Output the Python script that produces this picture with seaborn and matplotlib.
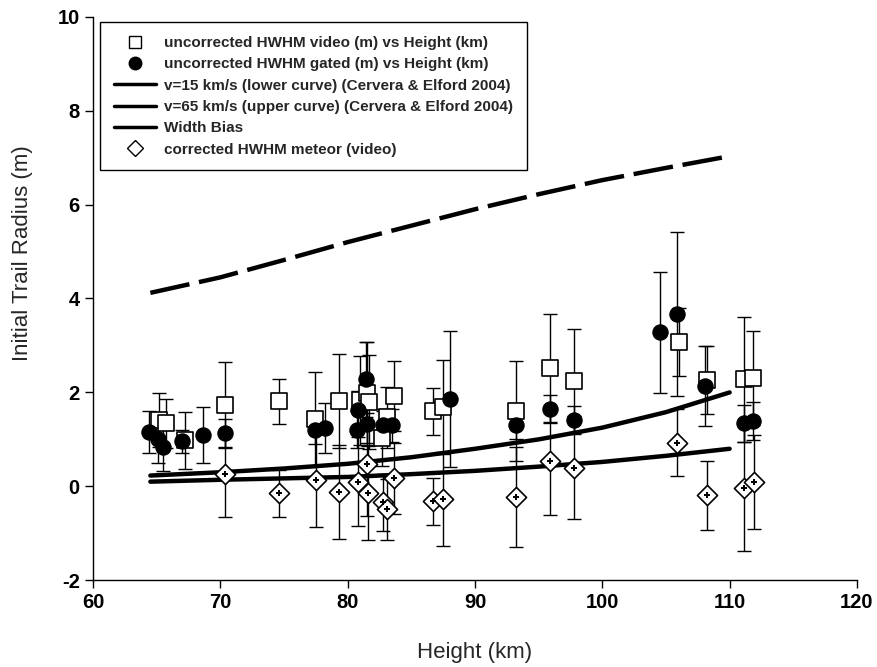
import matplotlib
matplotlib.use("Agg")
import matplotlib.pyplot as plt
from matplotlib.lines import Line2D
import seaborn as sns
import pandas as pd

# uncorrected HWHM video (m)
video_h = [65.2, 65.7, 67.2, 70.4, 74.6, 77.4, 79.3, 81.0, 81.5, 81.7, 82.7,
           83.1, 83.6, 86.7, 87.5, 93.2, 95.9, 97.8, 106.0, 108.2, 111.1, 111.8]
video_r = [1.41, 1.34, 0.98, 1.73, 1.81, 1.43, 1.81, 1.83, 1.98, 1.79, 1.04,
           1.47, 1.92, 1.60, 1.68, 1.60, 2.52, 2.24, 3.07, 2.26, 2.28, 2.30]
video_err = [0.57, 0.52, 0.60, 0.92, 0.48, 1.00, 1.00, 0.95, 1.10, 1.00, 0.60,
             0.65, 0.75, 0.50, 1.00, 1.07, 1.15, 1.10, 0.72, 0.73, 1.33, 1.00]

# uncorrected HWHM gated (m)
gated_h = [64.4, 65.1, 65.5, 67.0, 68.6, 70.4, 77.4, 78.2, 80.7, 80.8, 81.4, 81.5,
           82.8, 83.5, 88.0, 93.2, 95.9, 97.8, 104.5, 105.9, 108.1, 111.1, 111.8]
gated_r = [1.15, 1.00, 0.83, 0.96, 1.09, 1.13, 1.20, 1.24, 1.21, 1.62, 2.28, 1.32,
           1.30, 1.30, 1.86, 1.30, 1.64, 1.41, 3.28, 3.67, 2.13, 1.34, 1.39]
gated_err = [0.45, 0.50, 0.50, 0.25, 0.60, 0.30, 0.30, 0.53, 0.40, 0.40, 0.80, 0.40,
             0.30, 0.35, 1.45, 0.30, 0.30, 0.30, 1.29, 1.75, 0.85, 0.40, 0.40]

# corrected HWHM meteor (video)
corr_h = [70.4, 74.6, 77.5, 79.3, 80.8, 81.5, 81.6, 82.8, 83.1, 83.6, 86.7,
          87.5, 93.2, 95.9, 97.8, 105.9, 108.2, 111.1, 111.9]
corr_r = [0.26, -0.15, 0.13, -0.12, 0.10, 0.47, -0.15, -0.34, -0.49, 0.17, -0.32,
          -0.26, -0.23, 0.55, 0.40, 0.93, -0.19, -0.04, 0.09]
corr_err = [0.92, 0.50, 1.00, 1.00, 0.95, 1.10, 1.00, 0.60, 0.65, 0.75, 0.50,
            1.00, 1.07, 1.15, 1.10, 0.72, 0.73, 1.33, 1.00]

# model curves
curve_h = [64.5, 70, 75, 80, 85, 90, 95, 100, 105, 110]
v15_r = [0.10, 0.14, 0.17, 0.20, 0.26, 0.33, 0.42, 0.52, 0.65, 0.80]
v65_r = [0.23, 0.30, 0.38, 0.48, 0.62, 0.80, 1.00, 1.25, 1.58, 2.00]
bias_r = [4.12, 4.45, 4.82, 5.20, 5.55, 5.90, 6.22, 6.52, 6.78, 7.03]

sns.set_style("ticks")
plt.rcParams["font.family"] = ["Liberation Sans", "DejaVu Sans"]
plt.rcParams["axes.unicode_minus"] = False

fig = plt.figure(figsize=(8.78, 6.67), dpi=100)
ax = fig.add_axes([0.106, 0.130, 0.870, 0.845])

curves = pd.DataFrame({"h": curve_h, "v15": v15_r, "v65": v65_r, "bias": bias_r})
sns.lineplot(data=curves, x="h", y="v15", color="black", lw=3.2, ax=ax)
sns.lineplot(data=curves, x="h", y="v65", color="black", lw=3.2, ax=ax)
sns.lineplot(data=curves, x="h", y="bias", color="black", lw=3.2, ax=ax,
             dashes=False).lines[-1].set_dashes((9, 2.2))

eb = dict(fmt="none", ecolor="black", elinewidth=1, capsize=5, capthick=1, zorder=3)
ax.errorbar(video_h, video_r, yerr=video_err, **eb)
ax.errorbar(gated_h, gated_r, yerr=gated_err, **eb)
ax.errorbar(corr_h, corr_r, yerr=corr_err, **eb)

sns.scatterplot(x=video_h, y=video_r, marker="s", s=140, facecolor="white",
                edgecolor="black", linewidth=1.2, zorder=4, ax=ax)
sns.scatterplot(x=gated_h, y=gated_r, marker="o", s=120, color="black",
                edgecolor="black", zorder=5, ax=ax)
sns.scatterplot(x=corr_h, y=corr_r, marker="D", s=105, facecolor="white",
                edgecolor="black", linewidth=1.2, zorder=4, ax=ax)
sns.scatterplot(x=corr_h, y=corr_r, marker="P", s=18, color="black",
                linewidth=0, zorder=5, ax=ax)

ax.set_xlim(60, 120)
ax.set_ylim(-2, 10)
ax.set_xticks(range(60, 121, 10))
ax.set_yticks(range(-2, 11, 2))
ax.tick_params(direction="out", length=6, width=1, colors="black", labelsize=14.5)
for lab in ax.get_xticklabels() + ax.get_yticklabels():
    lab.set_fontweight("bold")
for side in ["left", "bottom"]:
    ax.spines[side].set_color("black")
    ax.spines[side].set_linewidth(1)
sns.despine(ax=ax)

ax.set_xlabel("Height (km)", fontsize=16)
ax.set_ylabel("Initial Trail Radius (m)", fontsize=16)
ax.xaxis.set_label_coords(0.5, -0.11)
ax.yaxis.set_label_coords(-0.078, 0.58)

handles = [
    Line2D([], [], ls="none", marker="s", ms=9, mfc="white", mec="black"),
    Line2D([], [], ls="none", marker="o", ms=9, color="black"),
    Line2D([], [], color="black", lw=2.5),
    Line2D([], [], color="black", lw=2.5),
    Line2D([], [], color="black", lw=2.5),
    Line2D([], [], ls="none", marker="D", ms=8, mfc="white", mec="black"),
]
labels = [
    "uncorrected HWHM video (m) vs Height (km)",
    "uncorrected HWHM gated (m) vs Height (km)",
    "v=15 km/s (lower curve) (Cervera & Elford 2004)",
    "v=65 km/s (upper curve) (Cervera & Elford 2004)",
    "Width Bias",
    "corrected HWHM meteor (video)",
]
leg = ax.legend(handles, labels, loc="upper left", bbox_to_anchor=(0.009, 0.99),
                prop={"weight": "bold", "size": 11}, frameon=True, fancybox=False,
                edgecolor="black", framealpha=1, handlelength=2.8, handletextpad=0.5,
                borderpad=0.9, labelspacing=0.48, borderaxespad=0)
leg.get_frame().set_linewidth(1)

fig.savefig("out.png", dpi=100)
